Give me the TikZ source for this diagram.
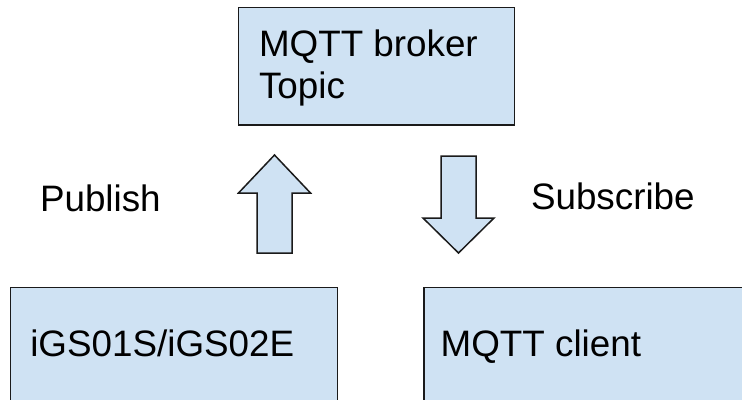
\documentclass[tikz,border=0pt]{standalone}
\usepackage{fontspec}
\setmainfont{Liberation Sans}
\definecolor{boxfill}{HTML}{CFE2F3}
\definecolor{edge}{HTML}{1A1A1A}
\begin{document}
\begin{tikzpicture}[x=1bp,y=-1bp,
  box/.style={draw=edge, line width=1.5bp, fill=boxfill, rectangle, inner sep=0pt, outer sep=0pt, anchor=north west},
  blockarrow/.style={draw=edge, line width=1.5bp, fill=boxfill, line join=miter},
  lbl/.style={anchor=base west, inner sep=0pt, outer sep=0pt, text=black, font=\fontsize{36.8bp}{42bp}\selectfont}]
\useasboundingbox (0,0) rectangle (742,399);
\clip (0,0) rectangle (742,399);
% boxes
\node[box, minimum width=276bp, minimum height=117.7bp] (broker) at (238.3,7.3) {};
\node[box, minimum width=326.6bp, minimum height=150bp] (device) at (10.7,287.3) {};
\node[box, minimum width=346bp, minimum height=150bp] (client) at (424,287.3) {};
% texts
\node[lbl] (brokerA) at (259,56) {MQTT broker};
\node[lbl] (brokerB) at (259,98) {Topic};
\node[lbl] (pub) at (40,211) {Publish};
\node[lbl] (sub) at (531,209) {Subscribe};
\node[lbl] (devtext) at (30.3,356.7) {iGS01S/iGS02E};
\node[lbl] (clitext) at (440.7,356.7) {MQTT client};
% block arrows
\draw[blockarrow] (274.5,155) -- (310.5,193) -- (292,193) -- (292,253) -- (257,253) -- (257,193) -- (238.5,193) -- cycle;
\draw[blockarrow] (441,156) -- (476,156) -- (476,218) -- (494,218) -- (458.5,253) -- (423,218) -- (441,218) -- cycle;
\end{tikzpicture}
\end{document}
